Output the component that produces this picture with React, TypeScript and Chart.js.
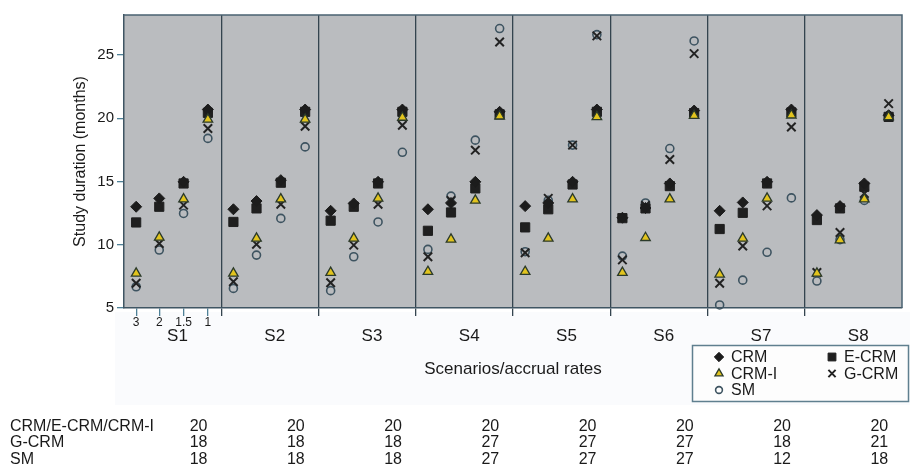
import React, { useEffect, useRef } from 'react';
import { Chart, registerables } from 'chart.js';
import { drawPoint } from 'chart.js/helpers';

Chart.register(...registerables);

// ---------------- data ----------------
const scenarios = ['S1', 'S2', 'S3', 'S4', 'S5', 'S6', 'S7', 'S8'];
const accrualRates = ['3', '2', '1.5', '1'];
const yTickValues = [5, 10, 15, 20, 25];

// study duration (months); one row per scenario, one value per accrual rate (3, 2, 1.5, 1)
const crm = [
  [13.0, 13.66, 14.97, 20.68],
  [12.8, 13.45, 15.1, 20.68],
  [12.68, 13.26, 14.97, 20.68],
  [12.8, 13.3, 14.97, 20.5],
  [13.05, 13.3, 14.97, 20.68],
  [12.13, 12.9, 14.84, 20.6],
  [12.68, 13.34, 14.97, 20.68],
  [12.34, 13.05, 14.84, 20.23],
];
const eCrm = [
  [11.76, 13.0, 14.84, 20.42],
  [11.8, 12.87, 14.9, 20.5],
  [11.9, 13.0, 14.84, 20.5],
  [11.1, 12.55, 14.45, 20.3],
  [11.37, 12.8, 14.76, 20.5],
  [12.1, 12.87, 14.63, 20.4],
  [11.24, 12.52, 14.84, 20.45],
  [11.95, 12.87, 14.58, 20.1],
];
const crmI = [
  [7.74, 10.58, 13.6, 19.9],
  [7.74, 10.5, 13.6, 19.9],
  [7.8, 10.5, 13.66, 20.05],
  [7.87, 10.42, 13.5, 20.15],
  [7.87, 10.5, 13.6, 20.1],
  [7.8, 10.55, 13.6, 20.2],
  [7.66, 10.5, 13.66, 20.23],
  [7.74, 10.37, 13.6, 20.1],
];
const gCrm = [
  [6.95, 10.1, 13.13, 19.18],
  [7.08, 10.03, 13.2, 19.36],
  [7.0, 9.97, 13.2, 19.44],
  [9.05, 13.5, 17.47, 26.02],
  [9.37, 13.66, 17.87, 26.5],
  [8.8, 13.1, 16.73, 25.1],
  [6.95, 9.9, 13.07, 19.3],
  [7.8, 10.97, 14.05, 21.15],
];
const sm = [
  [6.68, 9.58, 12.47, 18.4],
  [6.55, 9.18, 12.08, 17.73],
  [6.37, 9.05, 11.8, 17.3],
  [9.63, 13.84, 18.26, 27.08],
  [9.45, 13.5, 17.87, 26.6],
  [9.1, 13.3, 17.6, 26.1],
  [5.24, 7.2, 9.4, 13.7],
  [7.13, 10.4, 13.5, 20.2],
];

// table below the chart
const tableRowLabels = ['CRM/E-CRM/CRM-I', 'G-CRM', 'SM'];
const maxCrmEcrmCrmi = [20, 20, 20, 20, 20, 20, 20, 20];
const maxGcrm = [18, 18, 18, 27, 27, 27, 18, 21];
const maxSm = [18, 18, 18, 27, 27, 27, 12, 18];

// ---------------- layout ----------------
const PANEL = 4; // x units per scenario panel
const SLOT = [0.5, 1.45, 2.45, 3.45]; // position of each accrual rate inside a panel
const FONT = '"Liberation Sans", Arial, Helvetica, sans-serif';

const toPoints = (rows: number[][]) =>
  rows.flatMap((row, s) => row.map((v, r) => ({ x: s * PANEL + SLOT[r], y: v })));

const isSeparator = (v: number | undefined) =>
  v !== undefined && v > 0 && v < scenarios.length * PANEL && v % PANEL === 0;

const decorPlugin = {
  id: 'decor',
  beforeDraw(chart: any) {
    const { ctx, chartArea: a } = chart;
    ctx.save();
    ctx.fillStyle = '#fafbfd';
    ctx.fillRect(115, 312, 795, 93);
    ctx.fillStyle = '#babcbf';
    ctx.fillRect(a.left, a.top, a.right - a.left, a.bottom - a.top);
    ctx.restore();
  },
  beforeDatasetsDraw(chart: any) {
    const { ctx, chartArea: a } = chart;
    ctx.save();
    ctx.strokeStyle = '#4a6272';
    ctx.lineWidth = 1.5;
    ctx.beginPath();
    ctx.moveTo(a.left, a.top);
    ctx.lineTo(a.right, a.top);
    ctx.lineTo(a.right, a.bottom);
    ctx.stroke();
    ctx.restore();
  },
  afterDraw(chart: any) {
    const { ctx } = chart;
    const xs = chart.scales.x;
    ctx.save();
    // legend box
    const lx = 692, ly = 345, lw = 216, lh = 56;
    ctx.fillStyle = '#fdfdfd';
    ctx.fillRect(lx, ly, lw, lh);
    ctx.strokeStyle = '#5f7f8f';
    ctx.lineWidth = 1.5;
    ctx.strokeRect(lx + 0.5, ly + 0.5, lw, lh);
    ctx.font = `16px ${FONT}`;
    ctx.textBaseline = 'middle';
    ctx.textAlign = 'left';
    chart.data.datasets.forEach((ds: any, i: number) => {
      const col = i % 2;
      const row = Math.floor(i / 2);
      const mx = lx + 27 + col * 113;
      const my = ly + 12 + row * 16.5;
      ctx.fillStyle = ds.backgroundColor;
      ctx.strokeStyle = ds.borderColor;
      ctx.lineWidth = ds.borderWidth;
      drawPoint(ctx, {
        pointStyle: ds.pointStyle,
        radius: ds.pointRadius * 0.85,
        rotation: 0,
        borderWidth: ds.borderWidth,
      } as any, mx, my);
      ctx.fillStyle = '#1a1a1a';
      ctx.fillText(ds.label, mx + 12, my + 1);
    });
    // table
    const rows = [maxCrmEcrmCrmi, maxGcrm, maxSm];
    ctx.font = `16px ${FONT}`;
    ctx.fillStyle = '#1a1a1a';
    ctx.textAlign = 'left';
    rows.forEach((vals, r) => {
      const y = 426.5 + r * 16.5;
      ctx.fillText(tableRowLabels[r], 10, y);
      vals.forEach((v, s) => {
        ctx.fillText(String(v), xs.getPixelForValue(s * PANEL + 2.7), y);
      });
    });
    ctx.restore();
  },
};

export default function App() {
  const ref = useRef<HTMLCanvasElement | null>(null);

  useEffect(() => {
    document.body.style.margin = '0';
    Chart.defaults.font.family = FONT;
    const canvas = ref.current;
    if (!canvas) return;
    const chart = new Chart(canvas, {
      type: 'scatter',
      data: {
        datasets: [
          {
            label: 'CRM', data: toPoints(crm), pointStyle: 'rectRot', pointRadius: 5.5,
            backgroundColor: '#1c1c1c', borderColor: '#1c1c1c', borderWidth: 1, order: 1,
          },
          {
            label: 'E-CRM', data: toPoints(eCrm), pointStyle: 'rect', pointRadius: 6.5,
            backgroundColor: '#1f1f1f', borderColor: '#1f1f1f', borderWidth: 1, order: 2,
          },
          {
            label: 'CRM-I', data: toPoints(crmI), pointStyle: 'triangle', pointRadius: 5.5,
            backgroundColor: '#e2c41e', borderColor: '#2b3a2a', borderWidth: 1.3, order: 0,
          },
          {
            label: 'G-CRM', data: toPoints(gCrm), pointStyle: 'crossRot', pointRadius: 6,
            backgroundColor: '#222222', borderColor: '#222222', borderWidth: 2, order: 3,
          },
          {
            label: 'SM', data: toPoints(sm), pointStyle: 'circle', pointRadius: 4,
            backgroundColor: 'rgba(0,0,0,0)', borderColor: '#3d5360', borderWidth: 1.6, order: 4,
          },
        ] as any,
      },
      options: {
        responsive: false,
        animation: false,
        clip: false as any,
        layout: { padding: { left: 0, right: 8, top: 15, bottom: 81 } },
        plugins: { legend: { display: false }, tooltip: { enabled: false } },
        elements: { point: { hoverRadius: 0 } },
        scales: {
          x: {
            type: 'linear', min: 0, max: scenarios.length * PANEL, position: 'bottom', weight: 0,
            afterBuildTicks: (s: any) => {
              s.ticks = [
                ...SLOT.map((v) => ({ value: v })),
                ...scenarios.slice(1).map((_, i) => ({ value: (i + 1) * PANEL })),
              ];
            },
            afterFit: (s: any) => { s.height = 18; },
            ticks: {
              autoSkip: false, maxRotation: 0, minRotation: 0, padding: -1,
              font: { size: 12 }, color: '#1a1a1a',
              callback: (v: any) => {
                const i = SLOT.indexOf(Number(v));
                return i >= 0 ? accrualRates[i] : '';
              },
            },
            grid: {
              drawOnChartArea: true,
              color: (c: any) => (isSeparator(c.tick?.value) ? '#34444f' : 'rgba(0,0,0,0)'),
              tickColor: (c: any) => (isSeparator(c.tick?.value) ? '#34444f' : '#4f8197'),
              lineWidth: 1.3,
              tickWidth: 1.3,
              tickLength: 8,
            },
            border: { color: '#3f5563', width: 1.5 },
          },
          x2: {
            type: 'linear', min: 0, max: scenarios.length * PANEL, position: 'bottom', weight: 1,
            display: true,
            afterBuildTicks: (s: any) => {
              s.ticks = scenarios.map((_, i) => ({ value: i * PANEL + 2.2 }));
            },
            afterFit: (s: any) => { s.height = 66; },
            ticks: {
              autoSkip: false, maxRotation: 0, minRotation: 0, padding: 0,
              font: { size: 17 }, color: '#1a1a1a',
              callback: (_v: any, i: number) => scenarios[i],
            },
            grid: { display: false, drawTicks: false },
            border: { display: false },
            title: {
              display: true, text: 'Scenarios/accrual rates', font: { size: 17 }, color: '#1a1a1a',
              padding: { top: 0, bottom: 12 },
            },
          },
          y: {
            type: 'linear', min: 5, max: 28.15, position: 'left',
            afterBuildTicks: (s: any) => { s.ticks = yTickValues.map((v) => ({ value: v })); },
            afterFit: (s: any) => { s.width = 124; },
            ticks: { font: { size: 15 }, color: '#1a1a1a', padding: 3 },
            grid: { drawOnChartArea: false, tickLength: 7, color: '#4f8197', tickColor: '#4f8197', lineWidth: 1.3 },
            border: { color: '#3f5563', width: 1.5 },
            title: {
              display: true, text: 'Study duration (months)', font: { size: 16 }, color: '#1a1a1a',
              padding: { top: 71, bottom: 0 },
            },
          },
        } as any,
      },
      plugins: [decorPlugin],
    });
    return () => chart.destroy();
  }, []);

  return (
    <div style={{ width: 910, height: 473 }}>
      <canvas ref={ref} width={910} height={473} style={{ display: 'block' }} />
    </div>
  );
}
